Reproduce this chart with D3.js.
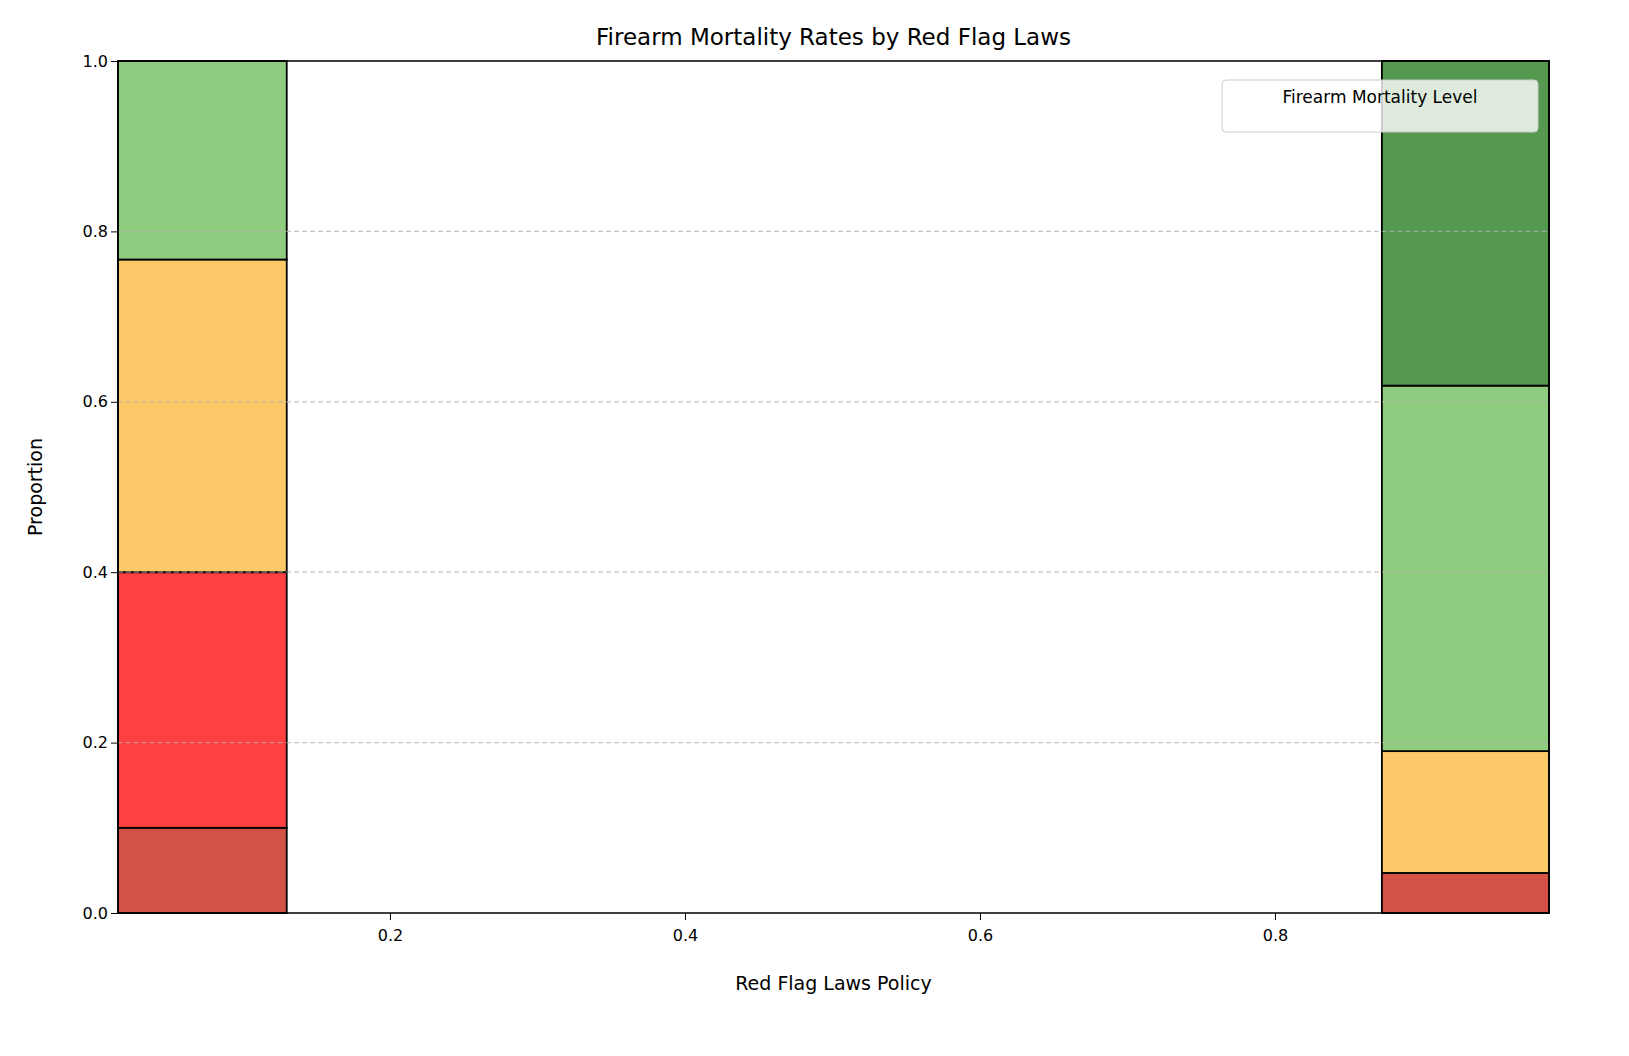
<!DOCTYPE html>
<html><head><meta charset="utf-8">
<script src="https://cdn.jsdelivr.net/npm/d3@7"></script>
<style>body{margin:0;background:#fff}text{font-family:"DejaVu Sans",sans-serif}</style>
</head><body>
<svg id="chart" width="1629" height="1056"></svg>
<script>
// Data
var bins = [[0.0156, 0.130], [0.8725, 0.9858]]
var levels = ["Very High", "High", "Medium", "Low", "Very Low"]
var colors = ["#d45245", "#ff4040", "#fcc968", "#8fcc80", "#559850"]
var noLaw = [0.10, 0.30, 0.367, 0.233, 0]
var withLaw = [0.047, 0, 0.143, 0.429, 0.381]
var series = [noLaw, withLaw]
var xTicks = [0.2, 0.4, 0.6, 0.8]
var yTicks = [0, 0.2, 0.4, 0.6, 0.8, 1.0]

var svg = d3.select("#chart")
var m = {l: 118, r: 80, t: 61, b: 143}
var W = 1629 - m.l - m.r, H = 1056 - m.t - m.b
var g = svg.append("g").attr("transform", "translate(" + m.l + "," + m.t + ")")
var x = d3.scaleLinear().domain([0.0156, 0.9858]).range([0, W])
var y = d3.scaleLinear().domain([0, 1]).range([H, 0])

series.forEach(function(vals, i) {
  var acc = 0
  vals.forEach(function(v, j) {
    if (v > 0) {
      g.append("rect").attr("x", x(bins[i][0])).attr("width", x(bins[i][1]) - x(bins[i][0]))
        .attr("y", y(acc + v)).attr("height", y(acc) - y(acc + v))
        .attr("fill", colors[j]).attr("stroke", "#000").attr("stroke-width", 1.8)
    }
    acc += v
  })
})

g.selectAll(".grid").data(yTicks.slice(1, 5)).join("line")
  .attr("x1", 0).attr("x2", W).attr("y1", d => y(d)).attr("y2", d => y(d))
  .attr("stroke", "#b0b0b0").attr("stroke-dasharray", "5,3").attr("stroke-width", 1.2).attr("opacity", 0.7)

var xa = g.append("g").attr("transform", "translate(0," + H + ")")
  .call(d3.axisBottom(x).tickValues(xTicks).tickFormat(d3.format(".1f")).tickSizeOuter(0).tickSize(7))
var ya = g.append("g").call(d3.axisLeft(y).tickValues(yTicks).tickFormat(d3.format(".1f")).tickSizeOuter(0).tickSize(7))
;[xa, ya].forEach(a => { a.selectAll("text").attr("font-size", 16).attr("fill", "#000"); a.select(".domain").remove() })
xa.selectAll("text").attr("dy", "1.1em")

g.append("rect").attr("width", W).attr("height", H).attr("fill", "none").attr("stroke", "#000").attr("stroke-width", 1.5)

// legend (title only)
g.append("rect").attr("x", 1222 - m.l).attr("y", 80 - m.t).attr("width", 316).attr("height", 52).attr("rx", 4)
  .attr("fill", "rgba(255,255,255,0.8)").attr("stroke", "#ccc")
g.append("text").attr("x", 1380 - m.l).attr("y", 103 - m.t).attr("text-anchor", "middle").attr("font-size", 17).text("Firearm Mortality Level")

svg.append("text").attr("x", m.l + W / 2).attr("y", 45).attr("text-anchor", "middle").attr("font-size", 23).text("Firearm Mortality Rates by Red Flag Laws")
svg.append("text").attr("x", m.l + W / 2).attr("y", 990).attr("text-anchor", "middle").attr("font-size", 19).text("Red Flag Laws Policy")
svg.append("text").attr("transform", "translate(42," + (m.t + H / 2) + ") rotate(-90)").attr("text-anchor", "middle").attr("font-size", 19).text("Proportion")
</script>
</body></html>
